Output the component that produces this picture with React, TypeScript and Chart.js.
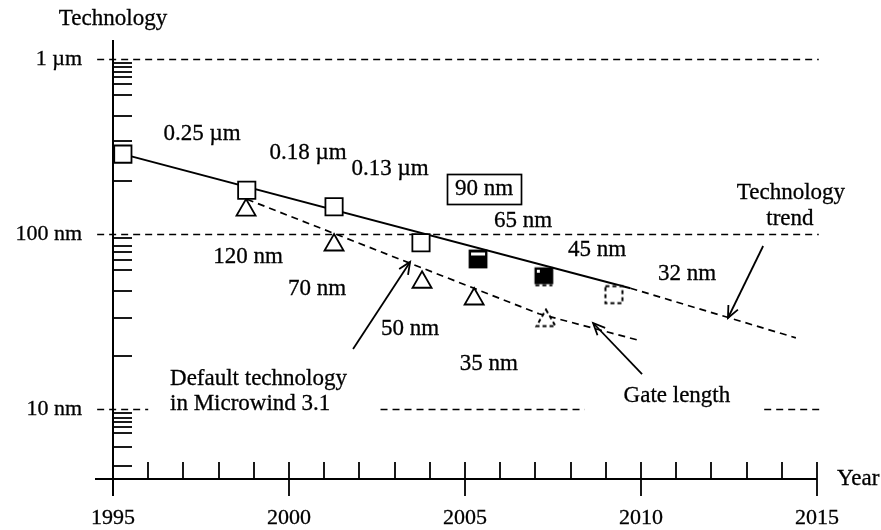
import React, { useEffect, useRef } from "react";
import { Chart, registerables } from "chart.js";

Chart.register(...registerables);

// ---- data (year, size in nm) ----
const squareYears = [1995.28, 1998.8, 2001.28, 2003.75, 2005.37, 2007.24, 2009.23];
const squareNm = [286, 178, 143, 89, 72, 57, 45];
const squareKinds = ["open", "open", "open", "open", "half", "filled", "dashed"];

const triangleYears = [1998.78, 2001.28, 2003.78, 2005.26, 2007.3];
const triangleNm = [137, 86.5, 53, 42.5, 32];
const triangleKinds = ["open", "open", "open", "open", "dashed"];

const trendYears = [1995.28, 2009.7];
const trendNm = [286, 49];
const trendExtYears = [2009.7, 2014.4];
const trendExtNm = [49, 25.5];

const gateYears = [1998.8, 2007.1, 2010.0];
const gateNm = [158, 35, 24.5];

const xTickYears = [1995, 2000, 2005, 2010, 2015];
const xMinorYears = [1996, 1997, 1998, 1999, 2001, 2002, 2003, 2004, 2006, 2007, 2008, 2009, 2011, 2012, 2013, 2014];
const yTickNm = [10, 100, 1000];
const yTickLabels = ["10 nm", "100 nm", "1 µm"];
const yMinorNm = [
  950, 900, 848, 789, 720, 620, 475, 338, 200,
  95, 85, 79, 71, 62, 47.5, 33, 20,
  9.45, 8.9, 8.45, 7.9, 7.25, 6.1, 4.7,
];

const gridNm = [1000, 100, 10];
const gridSegments = [
  [[1994.55, 2015.05]],
  [[1994.55, 2015.05]],
  [[1994.55, 1996.0], [2002.6, 2008.4], [2013.5, 2015.1]],
];

const labelTexts = [
  "0.25 µm", "0.18 µm", "0.13 µm", "90 nm", "65 nm", "45 nm", "32 nm",
  "120 nm", "70 nm", "50 nm", "35 nm",
  "Default technology", "in Microwind 3.1", "Gate length", "Technology", "trend",
];
const labelYears = [
  1997.53, 2000.54, 2002.87, 2005.54, 2006.65, 2008.75, 2011.31,
  1998.84, 2000.8, 2003.44, 2005.68,
  1996.62, 1996.62, 2011.02, 2014.26, 2014.23,
];
const labelNm = [
  373, 290, 235, 181, 118.6, 81, 59.1,
  73.9, 48.5, 28.7, 18.1,
  14.8, 10.7, 11.9, 171.4, 121.9,
];
const labelAlign = [
  "center", "center", "center", "center", "center", "center", "center",
  "center", "center", "center", "center",
  "left", "left", "center", "center", "center",
];
const boxedLabel = "90 nm";

const arrowFromYears = [2001.82, 2010.03, 2013.47];
const arrowFromNm = [22.0, 15.8, 85.4];
const arrowToYears = [2003.44, 2008.64, 2012.47];
const arrowToNm = [69.2, 31.0, 33.1];

const Y_MIN = 3.98;
const Y_MAX = 1284;
const X_MIN = 1995;
const X_MAX = 2015;

const SERIF = "'Liberation Serif', 'DejaVu Serif', serif";

function makeSquare(kind: string): HTMLCanvasElement {
  const c = document.createElement("canvas");
  c.width = 22;
  c.height = 22;
  const g = c.getContext("2d")!;
  const o = 2.5;
  const s = 17;
  g.lineWidth = 1.8;
  g.strokeStyle = "#000";
  if (kind === "half") {
    g.fillStyle = "#000";
    g.fillRect(o, o, s, s);
    g.fillStyle = "#fff";
    g.fillRect(o + 1.5, o + 2, s - 3, 3);
    g.strokeRect(o, o, s, s);
  } else if (kind === "filled") {
    g.fillStyle = "#000";
    g.fillRect(o, o, s, s - 2);
    g.fillStyle = "#fff";
    g.fillRect(o + 1.5, o + 1.5, 3, 3);
    g.strokeRect(o, o, s, s - 2);
    g.setLineDash([4, 3]);
    g.beginPath();
    g.moveTo(o, o + s);
    g.lineTo(o + s, o + s);
    g.stroke();
  } else {
    g.fillStyle = "#fff";
    g.fillRect(o, o, s, s);
    g.lineWidth = 2;
    g.setLineDash([4, 3]);
    g.strokeRect(o, o, s, s);
  }
  return c;
}

function makeDashedTriangle(): HTMLCanvasElement {
  const c = document.createElement("canvas");
  c.width = 26;
  c.height = 26;
  const g = c.getContext("2d")!;
  g.lineWidth = 2;
  g.strokeStyle = "#000";
  g.fillStyle = "#fff";
  g.setLineDash([4, 3]);
  g.beginPath();
  g.moveTo(13, 2);
  g.lineTo(22.5, 18.5);
  g.lineTo(3.5, 18.5);
  g.closePath();
  g.fill();
  g.stroke();
  return c;
}

const overlay = {
  id: "overlay",
  beforeDatasetsDraw(chart: any) {
    const { ctx, scales } = chart;
    const x = scales.x;
    const y = scales.y;
    const line = (a: number, b: number, c: number, d: number) => {
      ctx.beginPath();
      ctx.moveTo(a, b);
      ctx.lineTo(c, d);
      ctx.stroke();
    };
    ctx.save();
    ctx.strokeStyle = "#000";
    // dashed reference lines
    ctx.lineWidth = 1.6;
    ctx.setLineDash([7, 5]);
    gridNm.forEach((nm, i) => {
      const py = Math.round(y.getPixelForValue(nm)) + 0.5;
      gridSegments[i].forEach(([a, b]) => line(x.getPixelForValue(a), py, x.getPixelForValue(b), py));
    });
    ctx.setLineDash([]);
    // axes
    const x0 = Math.round(x.getPixelForValue(X_MIN));
    const yb = Math.round(y.getPixelForValue(Y_MIN));
    const top = chart.chartArea.top;
    ctx.lineWidth = 2;
    line(x0, top, x0, yb + 17);
    line(x0 - 18, yb, x.getPixelForValue(X_MAX), yb);
    ctx.lineWidth = 1.8;
    yMinorNm.forEach((nm) => {
      const py = Math.round(y.getPixelForValue(nm));
      line(x0, py, x0 + 19, py);
    });
    xMinorYears.forEach((yr) => {
      const px = Math.round(x.getPixelForValue(yr));
      line(px, yb - 17, px, yb);
    });
    xTickYears.forEach((yr) => {
      if (yr === X_MIN) return;
      const px = Math.round(x.getPixelForValue(yr));
      line(px, yb - 17, px, yb + 17);
    });
    ctx.restore();
  },
  afterDatasetsDraw(chart: any) {
    const { ctx, scales } = chart;
    const x = scales.x;
    const y = scales.y;
    ctx.save();
    ctx.fillStyle = "#000";
    ctx.strokeStyle = "#000";
    ctx.font = `23px ${SERIF}`;
    ctx.textBaseline = "middle";
    const text = (t: string, px: number, py: number) => {
      ctx.lineWidth = 0.3;
      ctx.fillText(t, px, py);
      ctx.strokeText(t, px, py);
    };
    labelTexts.forEach((t, i) => {
      const px = x.getPixelForValue(labelYears[i]);
      const py = y.getPixelForValue(labelNm[i]);
      ctx.textAlign = labelAlign[i] as CanvasTextAlign;
      text(t, px, py);
      if (t === boxedLabel) {
        const w = ctx.measureText(t).width + 16;
        ctx.lineWidth = 1.7;
        ctx.strokeRect(Math.round(px - w / 2) + 0.5, Math.round(py - 15) + 0.5, Math.round(w), 30);
      }
    });
    // axis titles
    ctx.textAlign = "center";
    text("Technology", x.getPixelForValue(X_MIN), y.getPixelForValue(1694));
    ctx.textAlign = "left";
    text("Year", x.getPixelForValue(2015.57), y.getPixelForValue(Y_MIN));
    // arrows
    ctx.lineWidth = 1.8;
    arrowFromYears.forEach((_, i) => {
      const ax = x.getPixelForValue(arrowFromYears[i]);
      const ay = y.getPixelForValue(arrowFromNm[i]);
      const bx = x.getPixelForValue(arrowToYears[i]);
      const by = y.getPixelForValue(arrowToNm[i]);
      ctx.beginPath();
      ctx.moveTo(ax, ay);
      ctx.lineTo(bx, by);
      ctx.stroke();
      const ang = Math.atan2(by - ay, bx - ax);
      const L = 13;
      const spread = 0.42;
      ctx.beginPath();
      ctx.moveTo(bx - L * Math.cos(ang - spread), by - L * Math.sin(ang - spread));
      ctx.lineTo(bx, by);
      ctx.lineTo(bx - L * Math.cos(ang + spread), by - L * Math.sin(ang + spread));
      ctx.stroke();
    });
    ctx.restore();
  },
};

export default function App() {
  const ref = useRef<HTMLCanvasElement | null>(null);
  useEffect(() => {
    if (!ref.current) return;
    const squareStyles = squareKinds.map((k) => (k === "open" ? "rect" : makeSquare(k)));
    const squareRadius = squareKinds.map((k) => (k === "open" ? 12.2 : 11));
    const dashedTri = makeDashedTriangle();
    const triStyles = triangleKinds.map((k) => (k === "open" ? "triangle" : dashedTri));

    const chart = new Chart(ref.current, {
      type: "scatter",
      data: {
        datasets: [
          {
            label: "Technology node",
            data: squareYears.map((v, i) => ({ x: v, y: squareNm[i] })),
            showLine: false,
            pointStyle: squareStyles as any,
            pointRadius: squareRadius,
            backgroundColor: "#fff",
            borderColor: "#000",
            borderWidth: 1.8,
          },
          {
            label: "Gate length points",
            data: triangleYears.map((v, i) => ({ x: v, y: triangleNm[i] })),
            showLine: false,
            pointStyle: triStyles as any,
            pointRadius: 11,
            backgroundColor: "#fff",
            borderColor: "#000",
            borderWidth: 1.8,
          },
          {
            label: "Technology trend",
            data: trendYears.map((v, i) => ({ x: v, y: trendNm[i] })),
            showLine: true,
            pointRadius: 0,
            borderColor: "#000",
            borderWidth: 2,
          },
          {
            label: "Technology trend (projection)",
            data: trendExtYears.map((v, i) => ({ x: v, y: trendExtNm[i] })),
            showLine: true,
            pointRadius: 0,
            borderColor: "#000",
            borderWidth: 1.7,
            borderDash: [7, 5],
          },
          {
            label: "Gate length",
            data: gateYears.map((v, i) => ({ x: v, y: gateNm[i] })),
            showLine: true,
            pointRadius: 0,
            borderColor: "#000",
            borderWidth: 1.7,
            borderDash: [7, 5],
          },
        ],
      },
      options: {
        animation: false,
        responsive: false,
        events: [],
        layout: { padding: { top: 40, right: 64, left: 0, bottom: 0 } },
        plugins: { legend: { display: false }, tooltip: { enabled: false } },
        scales: {
          x: {
            type: "linear",
            min: X_MIN,
            max: X_MAX,
            grid: { display: false, drawTicks: false },
            border: { display: false },
            afterBuildTicks: (scale: any) => {
              scale.ticks = xTickYears.map((v) => ({ value: v }));
            },
            afterFit: (scale: any) => {
              scale.height = 51;
              scale.paddingLeft = 0;
              scale.paddingRight = 0;
            },
            ticks: {
              autoSkip: false,
              maxRotation: 0,
              padding: 26,
              color: "#000",
              textStrokeColor: "#000",
              textStrokeWidth: 0.3,
              font: { family: SERIF, size: 22 },
              callback: (v: any) => String(v),
            },
          },
          y: {
            type: "logarithmic",
            min: Y_MIN,
            max: Y_MAX,
            grid: { display: false, drawTicks: false },
            border: { display: false },
            afterBuildTicks: (scale: any) => {
              scale.ticks = yTickNm.map((v) => ({ value: v }));
            },
            afterFit: (scale: any) => {
              scale.width = 113;
              scale.paddingTop = 0;
              scale.paddingBottom = 0;
            },
            ticks: {
              autoSkip: false,
              padding: 31,
              color: "#000",
              textStrokeColor: "#000",
              textStrokeWidth: 0.3,
              font: { family: SERIF, size: 22 },
              callback: (v: any) => {
                const i = yTickNm.indexOf(Number(v));
                return i >= 0 ? yTickLabels[i] : "";
              },
            },
          },
        },
      },
      plugins: [overlay],
    });
    return () => chart.destroy();
  }, []);

  return (
    <div style={{ position: "absolute", left: 0, top: 0, width: 881, height: 530, background: "#fff" }}>
      <canvas ref={ref} width={881} height={530} style={{ width: 881, height: 530 }} />
    </div>
  );
}
